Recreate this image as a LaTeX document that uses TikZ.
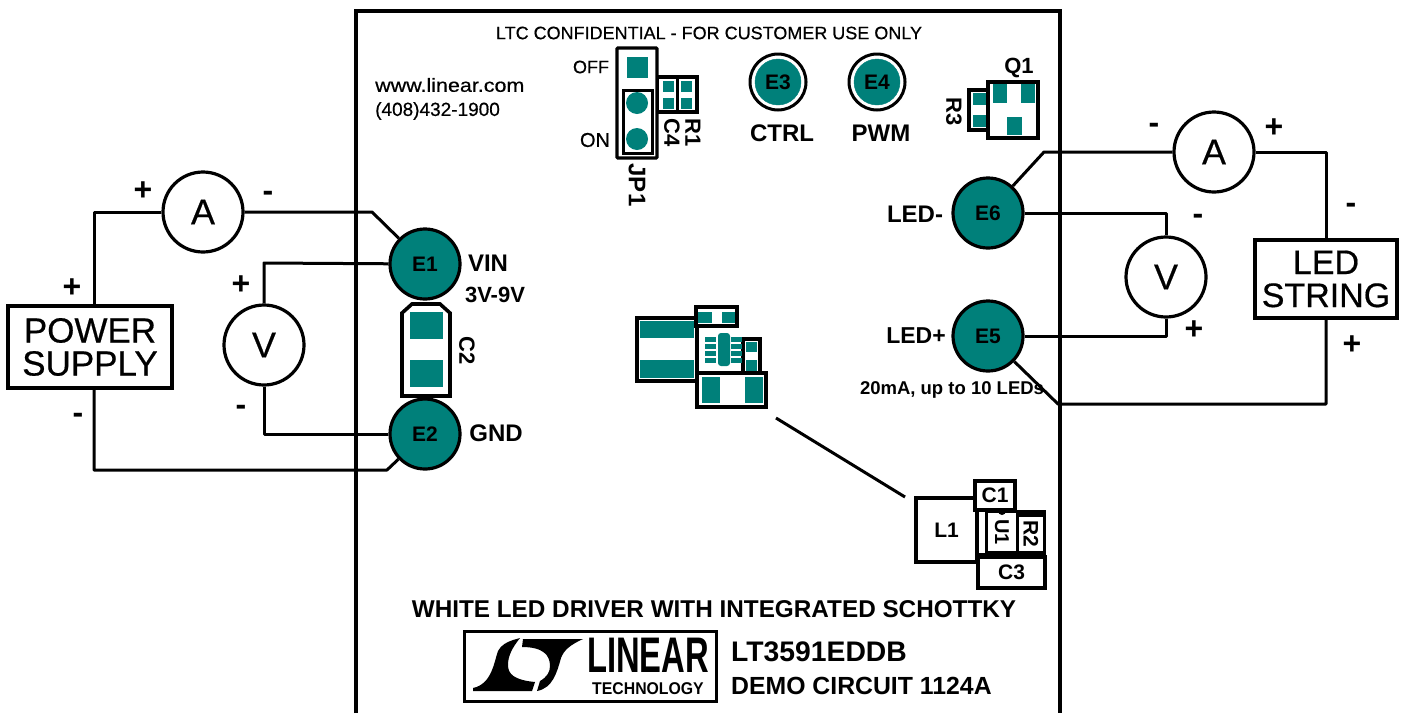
\documentclass[tikz,border=0pt]{standalone}
\usepackage{fontspec}
\setmainfont{Liberation Sans}
\newfontfamily\semifont[FakeBold=0.5]{Liberation Sans}
\newcommand{\fsz}[1]{\fontsize{#1}{#1}\selectfont}
\definecolor{padteal}{RGB}{0,128,122}

\begin{document}
\begin{tikzpicture}[
    x=1pt, y=-1pt,
    wire/.style={line width=3pt, line join=round},
    part/.style={line width=3.4pt, draw=black, fill=white},
    pad/.style={fill=padteal},
    meter/.style={circle, draw, line width=3.2pt, fill=white, minimum size=80pt, inner sep=0pt, font=\fsz{36}\semifont},
    terminal/.style={circle, draw, line width=3.2pt, fill=padteal, minimum size=70pt, inner sep=0pt, font=\fsz{21}\bfseries},
    small terminal/.style={circle, draw=padteal, fill=padteal, minimum size=46pt, inner sep=0pt, font=\fsz{21}\bfseries},
    supply/.style={rectangle, draw, line width=3.2pt, fill=white, align=center, inner sep=0pt, font=\fsz{34}\semifont},
    sign/.style={font=\fsz{32}\bfseries, inner sep=0pt},
    tag/.style={font=\fsz{24}\bfseries, inner sep=0pt},
    ident/.style={font=\fsz{22}\bfseries, inner sep=0pt, rotate=-90},
    plain/.style={font=\fsz{18}\semifont, inner sep=0pt},
    box/.style={rectangle, draw, line width=3.4pt, fill=white, inner sep=0pt, font=\fsz{21}\bfseries}
  ]
    \useasboundingbox (0,0) rectangle (1404,713);
    \fill[white] (0,0) rectangle (1404,713);

    % board outline
    \draw[line width=4pt] (356,713) -- (356,11) -- (1060,11) -- (1060,713);

    % meters and boxes
    \node[supply, minimum width=164pt, minimum height=82pt, font=\fsz{35}\semifont] (supply) at (90,347) {POWER\\[-2pt]SUPPLY};
    \node[supply, minimum width=142pt, minimum height=78pt] (string) at (1326,279) {LED\\[-1pt]STRING};
    \node[meter] (ampL) at (203,212) {A};
    \node[meter] (voltL) at (264,345) {V};
    \node[meter] (ampR) at (1214,152) {A};
    \node[meter] (voltR) at (1166,277) {V};

    % C2 between the terminals
    \draw[line width=3.6pt] (402,396) -- (402,313) -- (412,304) -- (440,304) -- (450,313) -- (450,396) -- cycle;
    \fill[pad] (410,312) rectangle (443,339);
    \fill[pad] (410,360) rectangle (443,387);

    \node[terminal] (e1) at (425,264) {E1};
    \node[terminal] (e2) at (425,434) {E2};
    \node[terminal] (e6) at (988,213) {E6};
    \node[terminal] (e5) at (988,336) {E5};

    \node[circle, draw, line width=3pt, fill=white, minimum size=56pt] (e3ring) at (778,82) {};
    \node[circle, draw, line width=3pt, fill=white, minimum size=56pt] (e4ring) at (877,82) {};
    \node[small terminal] (e3) at (778,82) {E3};
    \node[small terminal] (e4) at (877,82) {E4};

    % wiring
    \coordinate (c1) at (94,212);
    \coordinate (c2) at (372,212);
    \coordinate (c3) at (264,263);
    \coordinate (c4) at (264,434);
    \coordinate (c5) at (94,470);
    \coordinate (c6) at (387,470);
    \coordinate (c7) at (1044,152);
    \coordinate (c8) at (1326,152);
    \coordinate (c9) at (1166,213);
    \coordinate (c10) at (1166,336);
    \coordinate (c11) at (1058,404);
    \coordinate (c12) at (1326,404);
    \draw[wire] (supply.north -| c1) -- (c1) -- (ampL);
    \draw[wire] (ampL) -- (c2) -- (e1);
    \draw[wire] (e1) -- (c3) -- (voltL);
    \draw[wire] (voltL) -- (c4) -- (e2);
    \draw[wire] (supply.south -| c5) -- (c5) -- (c6) -- (e2);
    \draw[wire] (e6) -- (c7) -- (ampR);
    \draw[wire] (ampR) -- (c8) -- (string);
    \draw[wire] (e6) -- (c9) -- (voltR);
    \draw[wire] (voltR) -- (c10) -- (e5);
    \draw[wire] (e5) -- (c11) -- (c12) -- (string);

    % polarity marks
    \node[sign] (s1) at (143,191) {+};
    \node[sign] (s2) at (268,196) {-};
    \node[sign] (s3) at (72,288) {+};
    \node[sign] (s4) at (78,418) {-};
    \node[sign] (s5) at (241,285) {+};
    \node[sign] (s6) at (241,410) {-};
    \node[sign] (s7) at (1154,128) {-};
    \node[sign] (s8) at (1274,128) {+};
    \node[sign] (s9) at (1351,208) {-};
    \node[sign] (s10) at (1352,345) {+};
    \node[sign] (s11) at (1198,219) {-};
    \node[sign] (s12) at (1194,330) {+};

    % labels on the board
    \node[plain] (title) at (709,33) {LTC CONFIDENTIAL - FOR CUSTOMER USE ONLY};
    \node[plain, anchor=west, font=\fsz{19}\semifont, xscale=1.13] (web) at (375,85) {www.linear.com};
    \node[plain, anchor=west, font=\fsz{19}\semifont] (phone) at (375,111) {(408)432-1900};
    \node[plain] (off) at (591,67) {OFF};
    \node[plain, font=\fsz{20}\semifont] (on) at (595,140) {ON};
    \node[tag] (ctrl) at (782,133) {CTRL};
    \node[tag] (pwm) at (881,133) {PWM};
    \node[tag] (vin) at (488,263) {VIN};
    \node[tag, font=\fsz{22}\bfseries] (vrange) at (495,295) {3V-9V};
    \node[tag] (gnd) at (496,433) {GND};
    \node[tag] (ledm) at (915,214) {LED-};
    \node[tag, font=\fsz{23}\bfseries] (ledp) at (916,336) {LED+};
    \node[tag, font=\fsz{18.5}\bfseries] (ledinfo) at (952,390) {20mA, up to 10 LEDs};
    \node[ident] (c2lab) at (467,351) {C2};
    \node[ident, font=\fsz{24}\bfseries] (jplab) at (637,185) {JP1};
    \node[ident] (c4lab) at (672,133) {C4};
    \node[ident] (r1lab) at (693,133) {R1};
    \node[ident] (r3lab) at (954,112) {R3};
    \node[tag, font=\fsz{22}\bfseries] (q1lab) at (1019,68) {Q1};

    % JP1 and R1, C4
    \draw[part] (657,77) rectangle (697,112);
    \draw[line width=3pt] (677,77) -- (677,112);
    \foreach \px/\py in {663/81, 663/98, 681/81, 681/98}
      \fill[pad] (\px,\py) rectangle ++(11,11);
    \draw[part, rounded corners=1pt] (617,48) rectangle (657,158);
    \fill[pad] (627,57) rectangle (648,78);
    \draw[line width=3pt] (623,90) rectangle (652,153);
    \fill[pad] (637,103) circle (11);
    \fill[pad] (637,139) circle (11);

    % Q1 and R3
    \draw[part] (969,90) rectangle (988,130);
    \fill[pad] (973,93) rectangle (987,105);
    \fill[pad] (973,115) rectangle (987,127);
    \draw[part] (988,82) rectangle (1038,138);
    \fill[pad] (993,84) rectangle (1007,103);
    \fill[pad] (1021,84) rectangle (1035,103);
    \fill[pad] (1007,117) rectangle (1022,135);

    % centre parts
    \draw[part] (637,318) rectangle (697,381);
    \fill[pad] (640,321) rectangle (694,338);
    \fill[pad] (640,360) rectangle (694,378);
    \draw[part] (696,307) rectangle (737,326);
    \fill[pad] (698,312) rectangle (712,323);
    \fill[pad] (722,312) rectangle (735,323);
    \draw[part] (743,339) rectangle (760,373);
    \fill[pad] (746,342) rectangle (757,352);
    \fill[pad] (746,360) rectangle (757,372);
    \draw[part] (697,373) rectangle (766,407);
    \fill[pad] (702,377) rectangle (720,403);
    \fill[pad] (745,377) rectangle (763,403);
    \fill[pad, rounded corners=3pt] (718,333) rectangle (730,366);
    \foreach \py in {337,344,351,358} {
      \fill[pad] (705,\py) rectangle ++(11,5);
      \fill[pad] (731,\py) rectangle ++(11,5);
    }

    % enlarged layout
    \node[box, minimum width=61pt, minimum height=64pt] (l1) at (946.5,530) {L1};
    \coordinate (leader) at (905,497);
    \draw[wire] (776,418) -- (leader);
    \fill (977,510) rectangle (1046,558);
    \fill[white] (979,512) rectangle (985,553);
    \node[box, minimum width=41pt, minimum height=30pt, line width=2.5pt, rotate=-90, font=\fsz{20}\bfseries] (u1) at (1002,532) {U1};
    \node[box, minimum width=37pt, minimum height=27pt, line width=2.5pt, rotate=-90, font=\fsz{21}\bfseries] (r2) at (1031,534) {R2};
    \fill (1002,511) circle (4);
    \node[box, minimum width=40pt, minimum height=29pt] (c1lab) at (995,495.5) {C1};
    \node[box, minimum width=67pt, minimum height=31pt] (c3lab) at (1011.5,572.5) {C3};

    % bottom block
    \node[font=\fsz{24.3}\bfseries, inner sep=0pt] (boardname) at (714,609) {WHITE LED DRIVER WITH INTEGRATED SCHOTTKY};
    \node[rectangle, draw, line width=3pt, minimum width=252pt, minimum height=70pt] (logo) at (590,666) {};
    \fill (513,640) -- (520,638) .. controls (512,648) and (508,656) .. (508,665) .. controls (508,674) and (514,680) .. (535,682) -- (532,691) -- (473,691) -- (473,688) .. controls (492,684) and (494,662) .. (498,651) .. controls (501,645) and (507,642) .. (513,640) -- cycle;
    \fill (523,639) -- (583,639) .. controls (570,645) and (564,650) .. (561,658) .. controls (557,672) and (553,688) .. (537,691) -- (540,681) .. controls (547,677) and (550,672) .. (550,666) .. controls (550,655) and (543,647) .. (522,647) -- cycle;
    \node[font=\fsz{50}\bfseries, inner sep=0pt, xscale=0.655] (logoword) at (648,655) {LINEAR};
    \node[font=\fsz{17}\bfseries, inner sep=0pt, xscale=0.93] (logotech) at (648,689) {TECHNOLOGY};
    \node[font=\fsz{28.3}\bfseries, inner sep=0pt, anchor=west] (partno) at (731,652) {LT3591EDDB};
    \node[font=\fsz{24.8}\bfseries, inner sep=0pt, anchor=west] (demo) at (731,686) {DEMO CIRCUIT 1124A};
  \end{tikzpicture}
\end{document}
